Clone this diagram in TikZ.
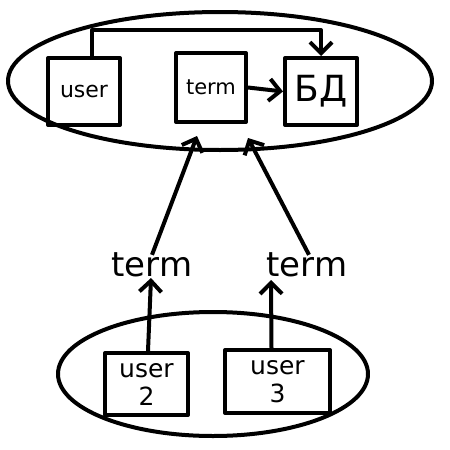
\documentclass[tikz,border=0pt]{standalone}
\usepackage{fontspec}
\setmainfont{DejaVu Sans}
\usetikzlibrary{arrows.meta,shapes.geometric}
\begin{document}
\begin{tikzpicture}[x=1pt,y=-1pt, line width=4pt, line join=round,
  box/.style={draw, rectangle, inner sep=0pt, align=center},
  arr/.style={-{Straight Barb[length=11pt,width=22pt,line width=4pt]}},
  group/.style={draw, ellipse, inner sep=0pt},
  lbl/.style={font=\fontsize{34}{34}\selectfont, inner sep=0pt}]
\useasboundingbox[fill=white] (0,0) rectangle (450,450);
% groups
\node[group, minimum width=424pt, minimum height=138pt] (topgrp) at (220,81) {};
\node[group, minimum width=310pt, minimum height=124pt] (botgrp) at (213,374) {};
% top boxes
\node[box, minimum width=72pt, minimum height=67pt, font=\fontsize{22}{22}\selectfont] (user1) at (84,91.5) {user};
\node[box, minimum width=70pt, minimum height=69pt, font=\fontsize{21}{21}\selectfont] (term1) at (211,87.5) {term};
\node[box, minimum width=72pt, minimum height=67pt, font=\fontsize{36}{36}\selectfont] (bd) at (321,91.5) {БД};
% labels
\node[lbl] (term2) at (152,265) {term};
\node[lbl] (term3) at (307,265) {term};
% bottom boxes
\node[box, minimum width=83pt, minimum height=62pt, font=\fontsize{25}{28}\selectfont] (user2) at (146.5,384) {user\\2};
\node[box, minimum width=105pt, minimum height=63pt, font=\fontsize{25}{28}\selectfont] (user3) at (277.5,381.5) {user\\3};
% coordinates
\coordinate (t2in) at (197,136);
\coordinate (t3in) at (248,138);
\coordinate (t2tip) at (151,278);
\coordinate (t3tip) at (271,280);
% connectors
\draw[arr] ([xshift=8pt]user1.north) -- ++(0,-26) -| (bd.north);
\draw[arr] (term1.east) -- (bd.west);
\draw[arr] ([yshift=-4pt]term2.north) -- (t2in);
\draw[arr] ([xshift=2pt,yshift=-4pt]term3.north) -- (t3in);
\draw[arr] ([xshift=1.5pt]user2.north) -- (t2tip);
\draw[arr] ([xshift=-6pt]user3.north) -- (t3tip);
\end{tikzpicture}
\end{document}
